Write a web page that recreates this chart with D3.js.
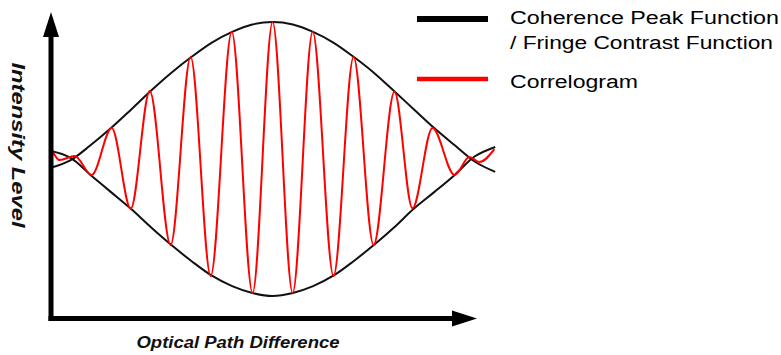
<!DOCTYPE html>
<html>
<head>
<meta charset="utf-8">
<script src="https://cdn.jsdelivr.net/npm/d3@7"></script>
<style>
  html, body { margin: 0; padding: 0; background: #fff; }
  svg { display: block; }
</style>
</head>
<body>
<div id="chart"></div>
<script>
// optical path difference, in half-fringe units (0 = zero OPD)
const envelopeOpd = [-11, -10, -9, -8, -7, -6, -5, -4, -3, -2, -1, 0, 1, 2, 3, 4, 5, 6, 7, 8, 9, 10, 11];
const upperEnvelope = [0.467, 0.495, 0.55, 0.612, 0.68, 0.75, 0.815, 0.873, 0.925, 0.964, 0.991, 1,
  0.991, 0.964, 0.925, 0.873, 0.815, 0.748, 0.68, 0.612, 0.55, 0.49, 0.453];
const lowerEnvelope = [0.53, 0.505, 0.442, 0.38, 0.318, 0.25, 0.186, 0.127, 0.074, 0.036, 0.011, 0,
  0.011, 0.036, 0.074, 0.127, 0.186, 0.25, 0.32, 0.38, 0.442, 0.51, 0.544];

// correlogram turning points
const fringeOpd = [-10.91, -10.52, -9.78, -8.94, -7.95, -7.01, -6.07, -5.04, -4.05, -3.06, -2.02, -0.99, 0,
  0.99, 1.98, 3.01, 4.0, 4.99, 6.02, 6.91, 7.9, 8.99, 9.73, 10.22, 10.96];
const fringeIntensity = [0.533, 0.496, 0.511, 0.442, 0.613, 0.318, 0.748, 0.186, 0.872, 0.073, 0.964, 0.011, 1,
  0.011, 0.964, 0.073, 0.872, 0.186, 0.745, 0.32, 0.613, 0.442, 0.507, 0.489, 0.536];

const legendLabels = [["Coherence Peak Function", "/ Fringe Contrast Function"], ["Correlogram"]];
const legendColors = ["#000000", "#ff0000"];
const xTitle = "Optical Path Difference";
const yTitle = "Intensity Level";

const W = 781, H = 355;
const svg = d3.select("#chart").append("svg")
  .attr("width", W).attr("height", H);

const x = d3.scaleLinear().domain([-11, 10.1]).range([50, 477]);
const y = d3.scaleLinear().domain([0, 1]).range([296, 22]);

const axisX = 51, axisY = 318.5;

// envelopes
const env = d3.line().x(d => x(d[0])).y(d => y(d[1])).curve(d3.curveCatmullRom);
svg.append("path")
  .datum(d3.zip(envelopeOpd, upperEnvelope))
  .attr("d", env).attr("fill", "none").attr("stroke", "#111").attr("stroke-width", 2);
svg.append("path")
  .datum(d3.zip(envelopeOpd, lowerEnvelope))
  .attr("d", env).attr("fill", "none").attr("stroke", "#111").attr("stroke-width", 2);

// correlogram
svg.append("path")
  .datum(d3.zip(fringeOpd, fringeIntensity))
  .attr("d", d3.line().x(d => x(d[0])).y(d => y(d[1])).curve(d3.curveMonotoneX))
  .attr("fill", "none").attr("stroke", "#ff0000").attr("stroke-width", 2);

// axes with arrows
const axes = svg.append("g").attr("fill", "#000").attr("stroke", "#000");
axes.append("line")
  .attr("x1", axisX).attr("x2", axisX).attr("y1", axisY + 2.5).attr("y2", 34)
  .attr("stroke-width", 5);
axes.append("path").attr("stroke", "none")
  .attr("d", `M${axisX},12 L${axisX + 8},37 L${axisX - 8},37 Z`);
axes.append("line")
  .attr("x1", axisX - 2.5).attr("x2", 455).attr("y1", axisY).attr("y2", axisY)
  .attr("stroke-width", 5);
axes.append("path").attr("stroke", "none")
  .attr("d", `M477,${axisY} L452,${axisY - 8} L452,${axisY + 8} Z`);

// axis titles
svg.append("text")
  .attr("x", 238).attr("y", 348)
  .attr("text-anchor", "middle")
  .attr("font-family", "Liberation Sans, Arial, sans-serif")
  .attr("font-size", 16).attr("font-weight", "bold").attr("font-style", "italic")
  .attr("fill", "#111")
  .attr("textLength", 203).attr("lengthAdjust", "spacingAndGlyphs")
  .text(xTitle);

svg.append("text")
  .attr("transform", "translate(12,145) rotate(90)")
  .attr("text-anchor", "middle")
  .attr("font-family", "Liberation Sans, Arial, sans-serif")
  .attr("font-size", 18).attr("font-weight", "bold").attr("font-style", "italic")
  .attr("fill", "#111")
  .attr("textLength", 165).attr("lengthAdjust", "spacingAndGlyphs")
  .text(yTitle);

// legend
const legendRows = [
  { lineY: 19, textY: [24, 49], lengths: [269, 263], width: 6 },
  { lineY: 79, textY: [88], lengths: [128], width: 4.5 }
];
legendRows.forEach((r, i) => {
  svg.append("line")
    .attr("x1", 417).attr("x2", 488).attr("y1", r.lineY).attr("y2", r.lineY)
    .attr("stroke", legendColors[i]).attr("stroke-width", r.width);
  legendLabels[i].forEach((t, j) => {
    svg.append("text")
      .attr("x", 510).attr("y", r.textY[j])
      .attr("font-family", "Liberation Sans, Arial, sans-serif")
      .attr("font-size", 18).attr("fill", "#000")
      .attr("textLength", r.lengths[j]).attr("lengthAdjust", "spacingAndGlyphs")
      .text(t);
  });
});
</script>
</body>
</html>
